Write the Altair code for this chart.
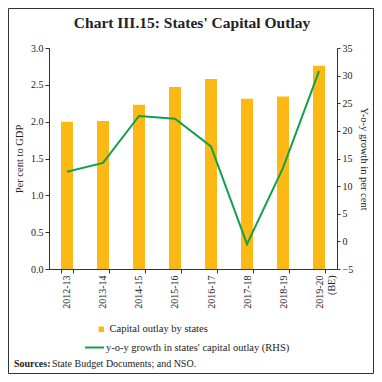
import altair as alt
import pandas as pd

years = ['2012-13', '2013-14', '2014-15', '2015-16', '2016-17', '2017-18', '2018-19', '2019-20 (BE)']
outlay = [2.00, 2.01, 2.23, 2.47, 2.58, 2.31, 2.34, 2.76]
growth = [12.6, 14.2, 22.7, 22.2, 17.2, -0.5, 13.3, 30.8]
bar_name = 'Capital outlay by states'
line_name = "y-o-y growth in states' capital outlay (RHS)"

df = pd.DataFrame({'year': years, 'outlay': outlay, 'growth': growth,
                   'bs': [bar_name] * len(years), 'ls': [line_name] * len(years)})

FONT = 'Liberation Serif'
BAR = '#FDB913'
GREEN = '#12A04B'
INK = '#222222'

xenc = alt.X('year:N', sort=years,
             scale=alt.Scale(paddingInner=0.667, paddingOuter=0.333),
             axis=alt.Axis(title=None, labelAngle=-90, labelAlign='right', labelBaseline='middle',
                           tickBand='extent', tickSize=4, labelPadding=2,
                           labelExpr="datum.label == '2019-20 (BE)' ? ['2019-20', '(BE)'] : datum.label"))

bars = alt.Chart(df).mark_bar(color=BAR).encode(
    x=xenc,
    y=alt.Y('outlay:Q', scale=alt.Scale(domain=[0, 3]),
            axis=alt.Axis(title='Per cent to GDP', values=[0, 0.5, 1, 1.5, 2, 2.5, 3], format='.1f',
                          grid=False, tickSize=4, labelPadding=2, titlePadding=6)),
    color=alt.Color('bs:N', scale=alt.Scale(range=[BAR]),
                    legend=alt.Legend(title=None, orient='none', legendX=47, legendY=276,
                                      symbolType='square', symbolSize=30, labelOffset=3,
                                      padding=0, labelFontSize=10.5, labelLimit=0))
)

line = alt.Chart(df).mark_line(strokeWidth=2).encode(
    x=xenc,
    y=alt.Y('growth:Q', scale=alt.Scale(domain=[-5, 35]),
            axis=alt.Axis(title='Y-o-y growth in per cent', orient='right',
                          values=[-5, 0, 5, 10, 15, 20, 25, 30, 35],
                          grid=False, tickSize=3, labelPadding=2, titlePadding=6)),
    stroke=alt.Stroke('ls:N', scale=alt.Scale(range=[GREEN]),
                      legend=alt.Legend(title=None, orient='none', legendX=35, legendY=289,
                                        symbolType='stroke', symbolSize=361, symbolStrokeWidth=2,
                                        labelOffset=1, padding=0, labelFontSize=10.5, labelLimit=0))
)

txt = pd.DataFrame({'a': [1]})
title = alt.Chart(txt).mark_text(text="Chart III.15: States' Capital Outlay", font=FONT, fontSize=15.5,
                                 fontWeight='bold', color=INK, align='center', baseline='middle').encode(
    x=alt.value(143), y=alt.value(-25))
src1 = alt.Chart(txt).mark_text(text='Sources:', font=FONT, fontSize=10, fontWeight='bold',
                                color=INK, align='left', baseline='middle').encode(
    x=alt.value(-35), y=alt.value(316))
src2 = alt.Chart(txt).mark_text(text='State Budget Documents; and NSO.', font=FONT, fontSize=10,
                                color=INK, align='left', baseline='middle').encode(
    x=alt.value(3), y=alt.value(316))
border = alt.Chart(txt).mark_rect(fillOpacity=0, stroke='#333333', strokeWidth=1).encode(
    x=alt.value(-40.5), x2=alt.value(324.5), y=alt.value(-39.5), y2=alt.value(325.5))

chart = alt.layer(bars, line, title, src1, src2, border).resolve_scale(
    y='independent', color='independent', stroke='independent'
).properties(
    width=288, height=221,
    padding={'left': 41, 'top': 40, 'right': 37, 'bottom': 105},
    autosize=alt.AutoSizeParams(type='none')
).configure_view(stroke=None).configure_axis(
    labelFont=FONT, titleFont=FONT, labelFontSize=10, titleFontSize=10.5, titleFontWeight='normal',
    labelColor=INK, titleColor=INK, domainColor='#333333', tickColor='#333333'
).configure_legend(labelFont=FONT, labelColor=INK)

chart.save('out.html', embed_options={'renderer': 'svg', 'actions': False})
